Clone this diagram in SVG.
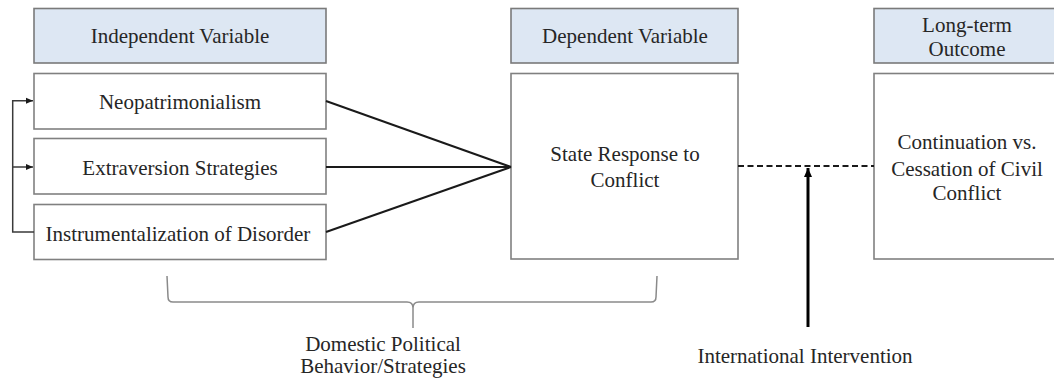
<svg xmlns="http://www.w3.org/2000/svg" width="1054" height="381" viewBox="0 0 1054 381">
<style>
.hdr{fill:#dde7f3;stroke:#7a7a7a;stroke-width:1.6}
.box{fill:#ffffff;stroke:#808080;stroke-width:1.6}
.t{font-family:"Liberation Serif","Times New Roman",serif;font-size:21px;fill:#262626;text-anchor:middle}
.conn{fill:none;stroke:#1a1a1a;stroke-width:2}
.loop{fill:none;stroke:#3a3a3a;stroke-width:1.5}
.brace{fill:none;stroke:#8a8a8a;stroke-width:1.5}
</style>
<defs>
<marker id="sm" markerWidth="8" markerHeight="8" refX="7" refY="4" orient="auto" markerUnits="userSpaceOnUse">
<path d="M0,1 L7,4 L0,7 Z" fill="#1a1a1a"/>
</marker>
<marker id="big" markerWidth="12" markerHeight="12" refX="9" refY="5" orient="auto" markerUnits="userSpaceOnUse">
<path d="M0,1 L9,5 L0,9 Z" fill="#000"/>
</marker>
</defs>
<rect width="1054" height="381" fill="#ffffff"/>

<g id="hdr-independent"><rect class="hdr" x="34" y="8.5" width="292" height="54.5"/><text class="t" x="180" y="43">Independent Variable</text></g>
<g id="hdr-dependent"><rect class="hdr" x="511" y="8.5" width="227" height="54.5"/><text class="t" x="625" y="43">Dependent Variable</text></g>
<g id="hdr-outcome"><rect class="hdr" x="874" y="8.5" width="190" height="54.5"/><text class="t" x="967" y="32">Long-term</text><text class="t" x="967" y="56">Outcome</text></g>

<g id="neopatrimonialism"><rect class="box" x="34" y="73.5" width="292" height="55.5"/><text class="t" x="180" y="109">Neopatrimonialism</text></g>
<g id="extraversion"><rect class="box" x="34" y="138.5" width="292" height="55.5"/><text class="t" x="180" y="175">Extraversion Strategies</text></g>
<g id="instrumentalization"><rect class="box" x="34" y="204.5" width="292" height="55"/><text class="t" x="178" y="241">Instrumentalization  of Disorder</text></g>
<g id="state-response"><rect class="box" x="511" y="73.5" width="227" height="185.5"/><text class="t" x="625" y="161">State Response to</text><text class="t" x="625" y="187">Conflict</text></g>
<g id="continuation"><rect class="box" x="874" y="73.5" width="190" height="185.5"/><text class="t" x="967" y="149">Continuation vs.</text><text class="t" x="967" y="176">Cessation of Civil</text><text class="t" x="967" y="200">Conflict</text></g>

<g id="connectors">
<path class="loop" d="M34,232 L12.7,232 L12.7,100.7 L33,100.7" marker-end="url(#sm)"/>
<path class="loop" d="M12.7,167 L33,167" marker-end="url(#sm)"/>
<path class="conn" d="M326,101 L511,167"/>
<path class="conn" d="M326,167 L511,167"/>
<path class="conn" d="M326,232 L511,167"/>
<path class="conn" d="M738,166 L874,166" stroke-dasharray="6,3.5"/>
<path fill="none" stroke="#000" stroke-width="3" d="M808,327 L808,168" marker-end="url(#big)"/>
</g>

<g id="brace">
<path class="brace" d="M167,276 L168,297 Q168,302 173,302 L407,302 Q413,302 413,308 L413,328 M413,308 Q413,302 419,302 L651,302 Q656,302 656,297 L657,276"/>
</g>
<g id="label-domestic"><text class="t" x="383" y="351">Domestic Political</text><text class="t" x="383" y="373">Behavior/Strategies</text></g>
<g id="label-international"><text class="t" x="805" y="363">International Intervention</text></g>
</svg>
